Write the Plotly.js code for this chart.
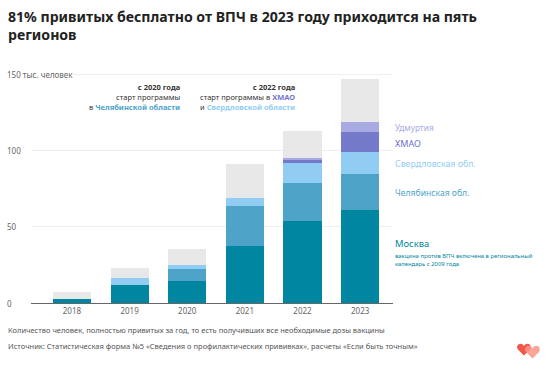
<!DOCTYPE html>
<html>
<head>
<meta charset="utf-8">
<script src="https://cdn.plot.ly/plotly-3.0.1.min.js"></script>
<style>html,body{margin:0;padding:0;background:#fff;}#chart{width:549px;height:372px;}</style>
</head>
<body>
<div id="chart"></div>
<script>
// ---- data ----
var years = ['2018', '2019', '2020', '2021', '2022', '2023'];
var moscow      = [2.9, 12.0, 14.3, 37.7, 54.2, 61.2];
var chelyabinsk = [0, 0, 7.9, 26.1, 24.9, 23.5];
var sverdlovsk  = [0, 4.4, 3.0, 5.5, 12.8, 14.6];
var khmao       = [0, 0, 0, 0, 2.4, 13.4];
var udmurtia    = [0, 0, 0, 0, 1.1, 6.4];
var others      = [4.4, 6.9, 10.1, 21.9, 18.0, 28.3];
var yTickVals   = [0, 50, 100, 150];
var yTickText   = ['0', '50', '100', '150 тыс. человек'];

var seriesNames  = ['Москва', 'Челябинская обл.', 'Свердловская обл.', 'ХМАО', 'Удмуртия', 'Другие регионы'];
var seriesValues = [moscow, chelyabinsk, sverdlovsk, khmao, udmurtia, others];
var seriesColors = ['#0086a0', '#4ea4c8', '#91cdf3', '#7479ca', '#a8aae3', '#e8e8e8'];

var W = 549, H = 372;
var L = 31, R = 393, T = 73, B = 303;
function px(x) { return (x - L) / (R - L); }
function py(y) { return (B - y) / (B - T); }

var FONT = 'Noto Sans, sans-serif';

var traces = seriesNames.map(function (n, i) {
  return {
    type: 'bar', name: n, x: years, y: seriesValues[i],
    marker: {color: seriesColors[i], line: {width: 0}},
    hoverinfo: 'skip'
  };
});

function totalAt(i) {
  var s = 0;
  seriesValues.forEach(function (v) { s += v[i]; });
  return s;
}

var annotations = [];
// title
annotations.push({
  xref: 'paper', yref: 'paper', x: px(6), y: py(5), xanchor: 'left', yanchor: 'top', align: 'left',
  showarrow: false,
  text: '<b>81% привитых бесплатно от ВПЧ в 2023 году приходится на пять<br>регионов</b>',
  font: {family: FONT, size: 14.1, color: '#222'}
});
// y tick labels (left aligned)
yTickVals.forEach(function (v, i) {
  annotations.push({
    xref: 'paper', yref: 'y', x: px(6), y: v, xanchor: 'left', yanchor: 'middle',
    text: yTickText[i], showarrow: false, bgcolor: i === 3 ? '#ffffff' : 'rgba(0,0,0,0)',
    borderpad: 0, font: {family: FONT, size: 8, color: '#666'}
  });
});

// program start notes
annotations.push({
  xref: 'paper', yref: 'paper', x: px(182), y: py(80), xanchor: 'right', yanchor: 'top', align: 'right',
  showarrow: false,
  text: '<b>с 2020 года</b><br>старт программы<br>в <b><span style="color:#4ea4c8">Челябинской области</span></b>',
  font: {family: FONT, size: 7.5, color: '#333'}
});
annotations.push({
  xref: 'paper', yref: 'paper', x: px(297), y: py(80), xanchor: 'right', yanchor: 'top', align: 'right',
  showarrow: false,
  text: '<b>с 2022 года</b><br>старт программы в <b><span style="color:#7479ca">ХМАО</span></b><br>и <b><span style="color:#91cdf3">Свердловской области</span></b>',
  font: {family: FONT, size: 7.5, color: '#333'}
});

// right-side labels
var rightLabels = [
  {t: 'Удмуртия', y: 128, c: '#a8aae3', s: 8.3},
  {t: 'ХМАО', y: 143, c: '#6e72c6', s: 9},
  {t: 'Свердловская обл.', y: 164, c: '#91cdf3', s: 8.8},
  {t: 'Челябинская обл.', y: 193, c: '#4ea4c8', s: 8.6},
  {t: 'Москва', y: 244, c: '#0086a0', s: 9.4}
];
rightLabels.forEach(function (r) {
  annotations.push({
    xref: 'paper', yref: 'paper', x: px(393), y: py(r.y), xanchor: 'left', yanchor: 'middle',
    text: r.t, showarrow: false, font: {family: FONT, size: r.s, color: r.c}
  });
});
annotations.push({
  xref: 'paper', yref: 'paper', x: px(393), y: py(259.5), xanchor: 'left', yanchor: 'middle', align: 'left',
  text: 'вакцина против ВПЧ включена в региональный<br>календарь с 2009 года', showarrow: false,
  font: {family: FONT, size: 5.9, color: '#0086a0'}
});

// footer
annotations.push({
  xref: 'paper', yref: 'paper', x: px(6), y: py(330), xanchor: 'left', yanchor: 'middle',
  text: 'Количество человек, полностью привитых за год, то есть получивших все необходимые дозы вакцины',
  showarrow: false, font: {family: FONT, size: 7.5, color: '#555'}
});
annotations.push({
  xref: 'paper', yref: 'paper', x: px(6), y: py(346), xanchor: 'left', yanchor: 'middle',
  text: 'Источник: Статистическая форма №5 «Сведения о профилактических прививках», расчеты «Если быть точным»',
  showarrow: false, font: {family: FONT, size: 7.5, color: '#555'}
});

// heart logo path helper (pixel coords -> paper)
function heart(x0, y0, w) {
  var pts = [[0.5,0.9],[0.08,0.48],[-0.05,0.35],[0.0,0.05],[0.25,0.05],[0.38,0.05],[0.47,0.15],[0.5,0.22],
             [0.53,0.15],[0.62,0.05],[0.75,0.05],[1.0,0.05],[1.05,0.35],[0.92,0.48]];
  var p = pts.map(function (q) { return (px(x0 + q[0] * w)).toFixed(5) + ',' + (py(y0 + q[1] * w)).toFixed(5); });
  return 'M' + p[0] + ' L' + p[1] + ' C' + p[2] + ' ' + p[3] + ' ' + p[4] +
         ' C' + p[5] + ' ' + p[6] + ' ' + p[7] + ' C' + p[8] + ' ' + p[9] + ' ' + p[10] +
         ' C' + p[11] + ' ' + p[12] + ' ' + p[13] + ' Z';
}

var shapes = [
  {type: 'line', xref: 'x', yref: 'y', x0: '2020', x1: '2020', y0: totalAt(2), y1: 151.3,
   line: {color: '#999', width: 1}, layer: 'below'},
  {type: 'line', xref: 'x', yref: 'y', x0: '2022', x1: '2022', y0: totalAt(4), y1: 151.3,
   line: {color: '#999', width: 1}, layer: 'below'},
  {type: 'path', xref: 'paper', yref: 'paper', path: heart(517, 343, 14), fillcolor: '#f2574a', line: {width: 0}},
  {type: 'path', xref: 'paper', yref: 'paper', path: heart(525, 345, 15), fillcolor: 'rgba(248,150,135,0.85)', line: {width: 0}}
];

var layout = {
  width: W, height: H,
  margin: {l: L, r: W - R, t: T, b: H - B, pad: 0},
  paper_bgcolor: '#fff', plot_bgcolor: '#fff',
  barmode: 'stack', bargap: 0.34,
  showlegend: false,
  font: {family: FONT, color: '#333'},
  xaxis: {
    type: 'category', range: [-0.71, 5.57], showgrid: false, zeroline: false,
    showline: true, linecolor: '#666', linewidth: 1, ticks: '',
    tickfont: {family: FONT, size: 8, color: '#666'}, fixedrange: true
  },
  yaxis: {
    range: [0, 151.3], tickvals: yTickVals, showticklabels: false,
    showgrid: true, gridcolor: '#efefef', gridwidth: 1, zeroline: false, ticks: '', fixedrange: true
  },
  annotations: annotations,
  shapes: shapes
};

Plotly.newPlot('chart', traces, layout, {staticPlot: true, displayModeBar: false});
</script>
</body>
</html>
